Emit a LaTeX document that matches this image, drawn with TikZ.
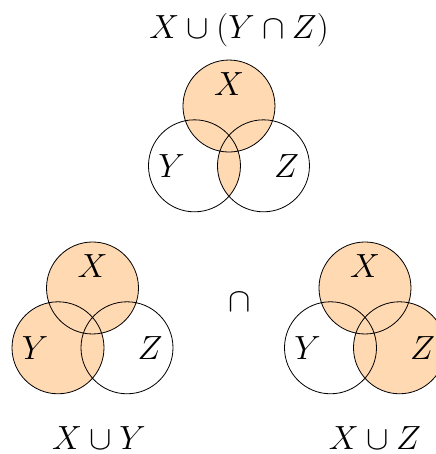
\documentclass[tikz,border=0pt]{standalone}
\usepackage{amsmath,amssymb}
\usetikzlibrary{positioning}

\begin{document}
\begin{tikzpicture}[
  venn/.style={draw,line width=0.5pt},
  shade/.style={fill=orange!30},
  lbl/.style={font=\huge}
]
\useasboundingbox (0,0) rectangle (9.478,9.870);
\def\rad{1cm}

% centres of the three diagrams
\coordinate (tX) at (4.978,7.565);
\coordinate (tY) at (4.228,6.265);
\coordinate (tZ) at (5.728,6.265);

\coordinate (lX) at (2.011,3.609);
\coordinate (lY) at (1.261,2.309);
\coordinate (lZ) at (2.761,2.309);

\coordinate (rX) at (7.935,3.609);
\coordinate (rY) at (7.185,2.309);
\coordinate (rZ) at (8.685,2.309);

% top: X u (Y n Z)
\fill[shade] (tX) circle (\rad);
\begin{scope}
  \clip (tY) circle (\rad);
  \fill[shade] (tZ) circle (\rad);
\end{scope}
\draw[venn] (tX) circle (\rad) (tY) circle (\rad) (tZ) circle (\rad);

% left: X u Y
\fill[shade] (lX) circle (\rad) (lY) circle (\rad);
\draw[venn] (lX) circle (\rad) (lY) circle (\rad) (lZ) circle (\rad);

% right: X u Z
\fill[shade] (rX) circle (\rad) (rZ) circle (\rad);
\draw[venn] (rX) circle (\rad) (rY) circle (\rad) (rZ) circle (\rad);

% set labels
\node[lbl] (tXl) at ([yshift=0.47cm]tX) {$X$};
\node[lbl] (tYl) at ([xshift=-0.5cm]tY) {$Y$};
\node[lbl] (tZl) at ([xshift=0.5cm]tZ) {$Z$};
\node[lbl] (lXl) at ([yshift=0.47cm]lX) {$X$};
\node[lbl] (lYl) at ([xshift=-0.5cm]lY) {$Y$};
\node[lbl] (lZl) at ([xshift=0.5cm]lZ) {$Z$};
\node[lbl] (rXl) at ([yshift=0.47cm]rX) {$X$};
\node[lbl] (rYl) at ([xshift=-0.5cm]rY) {$Y$};
\node[lbl] (rZl) at ([xshift=0.5cm]rZ) {$Z$};

% captions
\node[lbl] (top) at (5.196,9.22) {$X\cup(Y\cap Z)$};
\node[lbl] (cap) at (5.217,3.293) {$\cap$};
\node[lbl] (left) at (2.152,0.348) {$X\cup Y$};
\node[lbl] (right) at (8.152,0.348) {$X\cup Z$};

\end{tikzpicture}
\end{document}
